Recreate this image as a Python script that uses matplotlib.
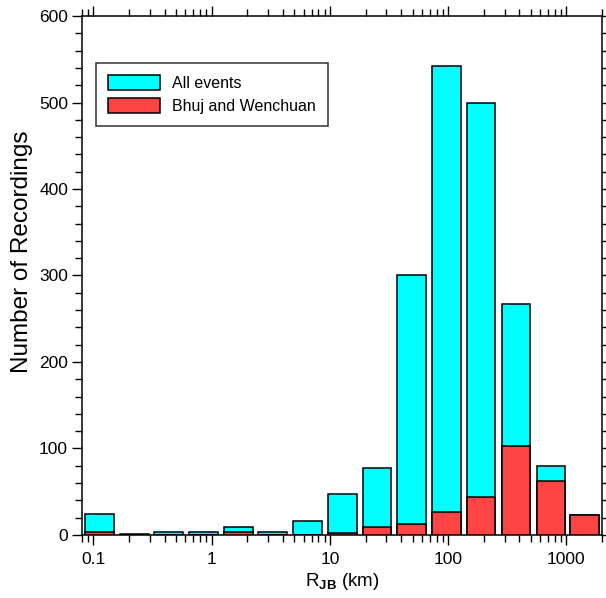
import numpy as np
import matplotlib
matplotlib.use('Agg')
import matplotlib.pyplot as plt
from matplotlib.ticker import LogLocator, MultipleLocator, FuncFormatter

plt.rcParams['font.family'] = ['Liberation Sans', 'DejaVu Sans']
plt.rcParams['mathtext.fontset'] = 'custom'
plt.rcParams['mathtext.rm'] = 'Liberation Sans'
plt.rcParams['mathtext.bf'] = 'Liberation Sans:bold'

# distance bins (geometric centres, km) and counts per bin
rjb_centres = [0.112, 0.223, 0.429, 0.853, 1.69, 3.28, 6.45, 12.8,
               24.9, 49.0, 97.3, 189, 374, 738, 1422]
all_events = [24, 1, 3, 3, 9, 4, 16, 47, 77, 300, 542, 500, 267, 80, 23]
bhuj_wenchuan = [3, 0, 0, 0, 3, 0, 0, 2, 9, 13, 26, 44, 103, 62, 23]

half_w = 10 ** 0.1207   # half bar width as a factor on the log axis
centres = np.array(rjb_centres)
lefts = centres / half_w
widths = centres * half_w - lefts

fig = plt.figure(figsize=(6.06, 5.98), dpi=100)
ax = fig.add_axes([0.1353, 0.1054, 0.8581, 0.8678])

ax.bar(lefts, all_events, width=widths, align='edge', color='#00ffff',
       edgecolor='black', linewidth=1.1, label='All events', zorder=2)
ax.bar(lefts, bhuj_wenchuan, width=widths, align='edge', color='#ff4444',
       edgecolor='black', linewidth=1.1, label='Bhuj and Wenchuan', zorder=3)

ax.set_xscale('log')
ax.set_xlim(0.08, 2000)
ax.set_ylim(0, 600)

ax.xaxis.set_major_locator(LogLocator(base=10, numticks=10))
ax.xaxis.set_minor_locator(LogLocator(base=10, subs=np.arange(2, 10), numticks=20))
ax.xaxis.set_major_formatter(FuncFormatter(lambda v, p: f'{v:g}'))
ax.yaxis.set_major_locator(MultipleLocator(100))
ax.yaxis.set_minor_locator(MultipleLocator(20))

ax.tick_params(which='both', direction='out', top=True, right=True,
               labelsize=12.5, width=1.0, colors='black')
ax.tick_params(which='major', length=7)
ax.tick_params(which='minor', length=5)
ax.tick_params(axis='x', which='major', pad=5)
ax.tick_params(axis='y', which='major', pad=3)
for sp in ax.spines.values():
    sp.set_linewidth(1.1)

ax.set_xlabel(r'$\mathrm{R}_{\mathbf{JB}}$ (km)', fontsize=13.5, labelpad=3)
ax.set_ylabel('Number of Recordings', fontsize=17.5)
ax.yaxis.set_label_coords(-0.094, 0.545)

leg = ax.legend(loc='upper left', bbox_to_anchor=(0.027, 0.909), fontsize=11.5,
                frameon=True, fancybox=False, handlelength=3.25, handleheight=1.05,
                handletextpad=0.75, labelspacing=0.45, borderpad=0.75,
                borderaxespad=0)
leg.get_frame().set_edgecolor('black')
leg.get_frame().set_linewidth(1.1)
for h in leg.legend_handles:
    h.set_linewidth(1.1)

fig.savefig('out.png', dpi=100)
